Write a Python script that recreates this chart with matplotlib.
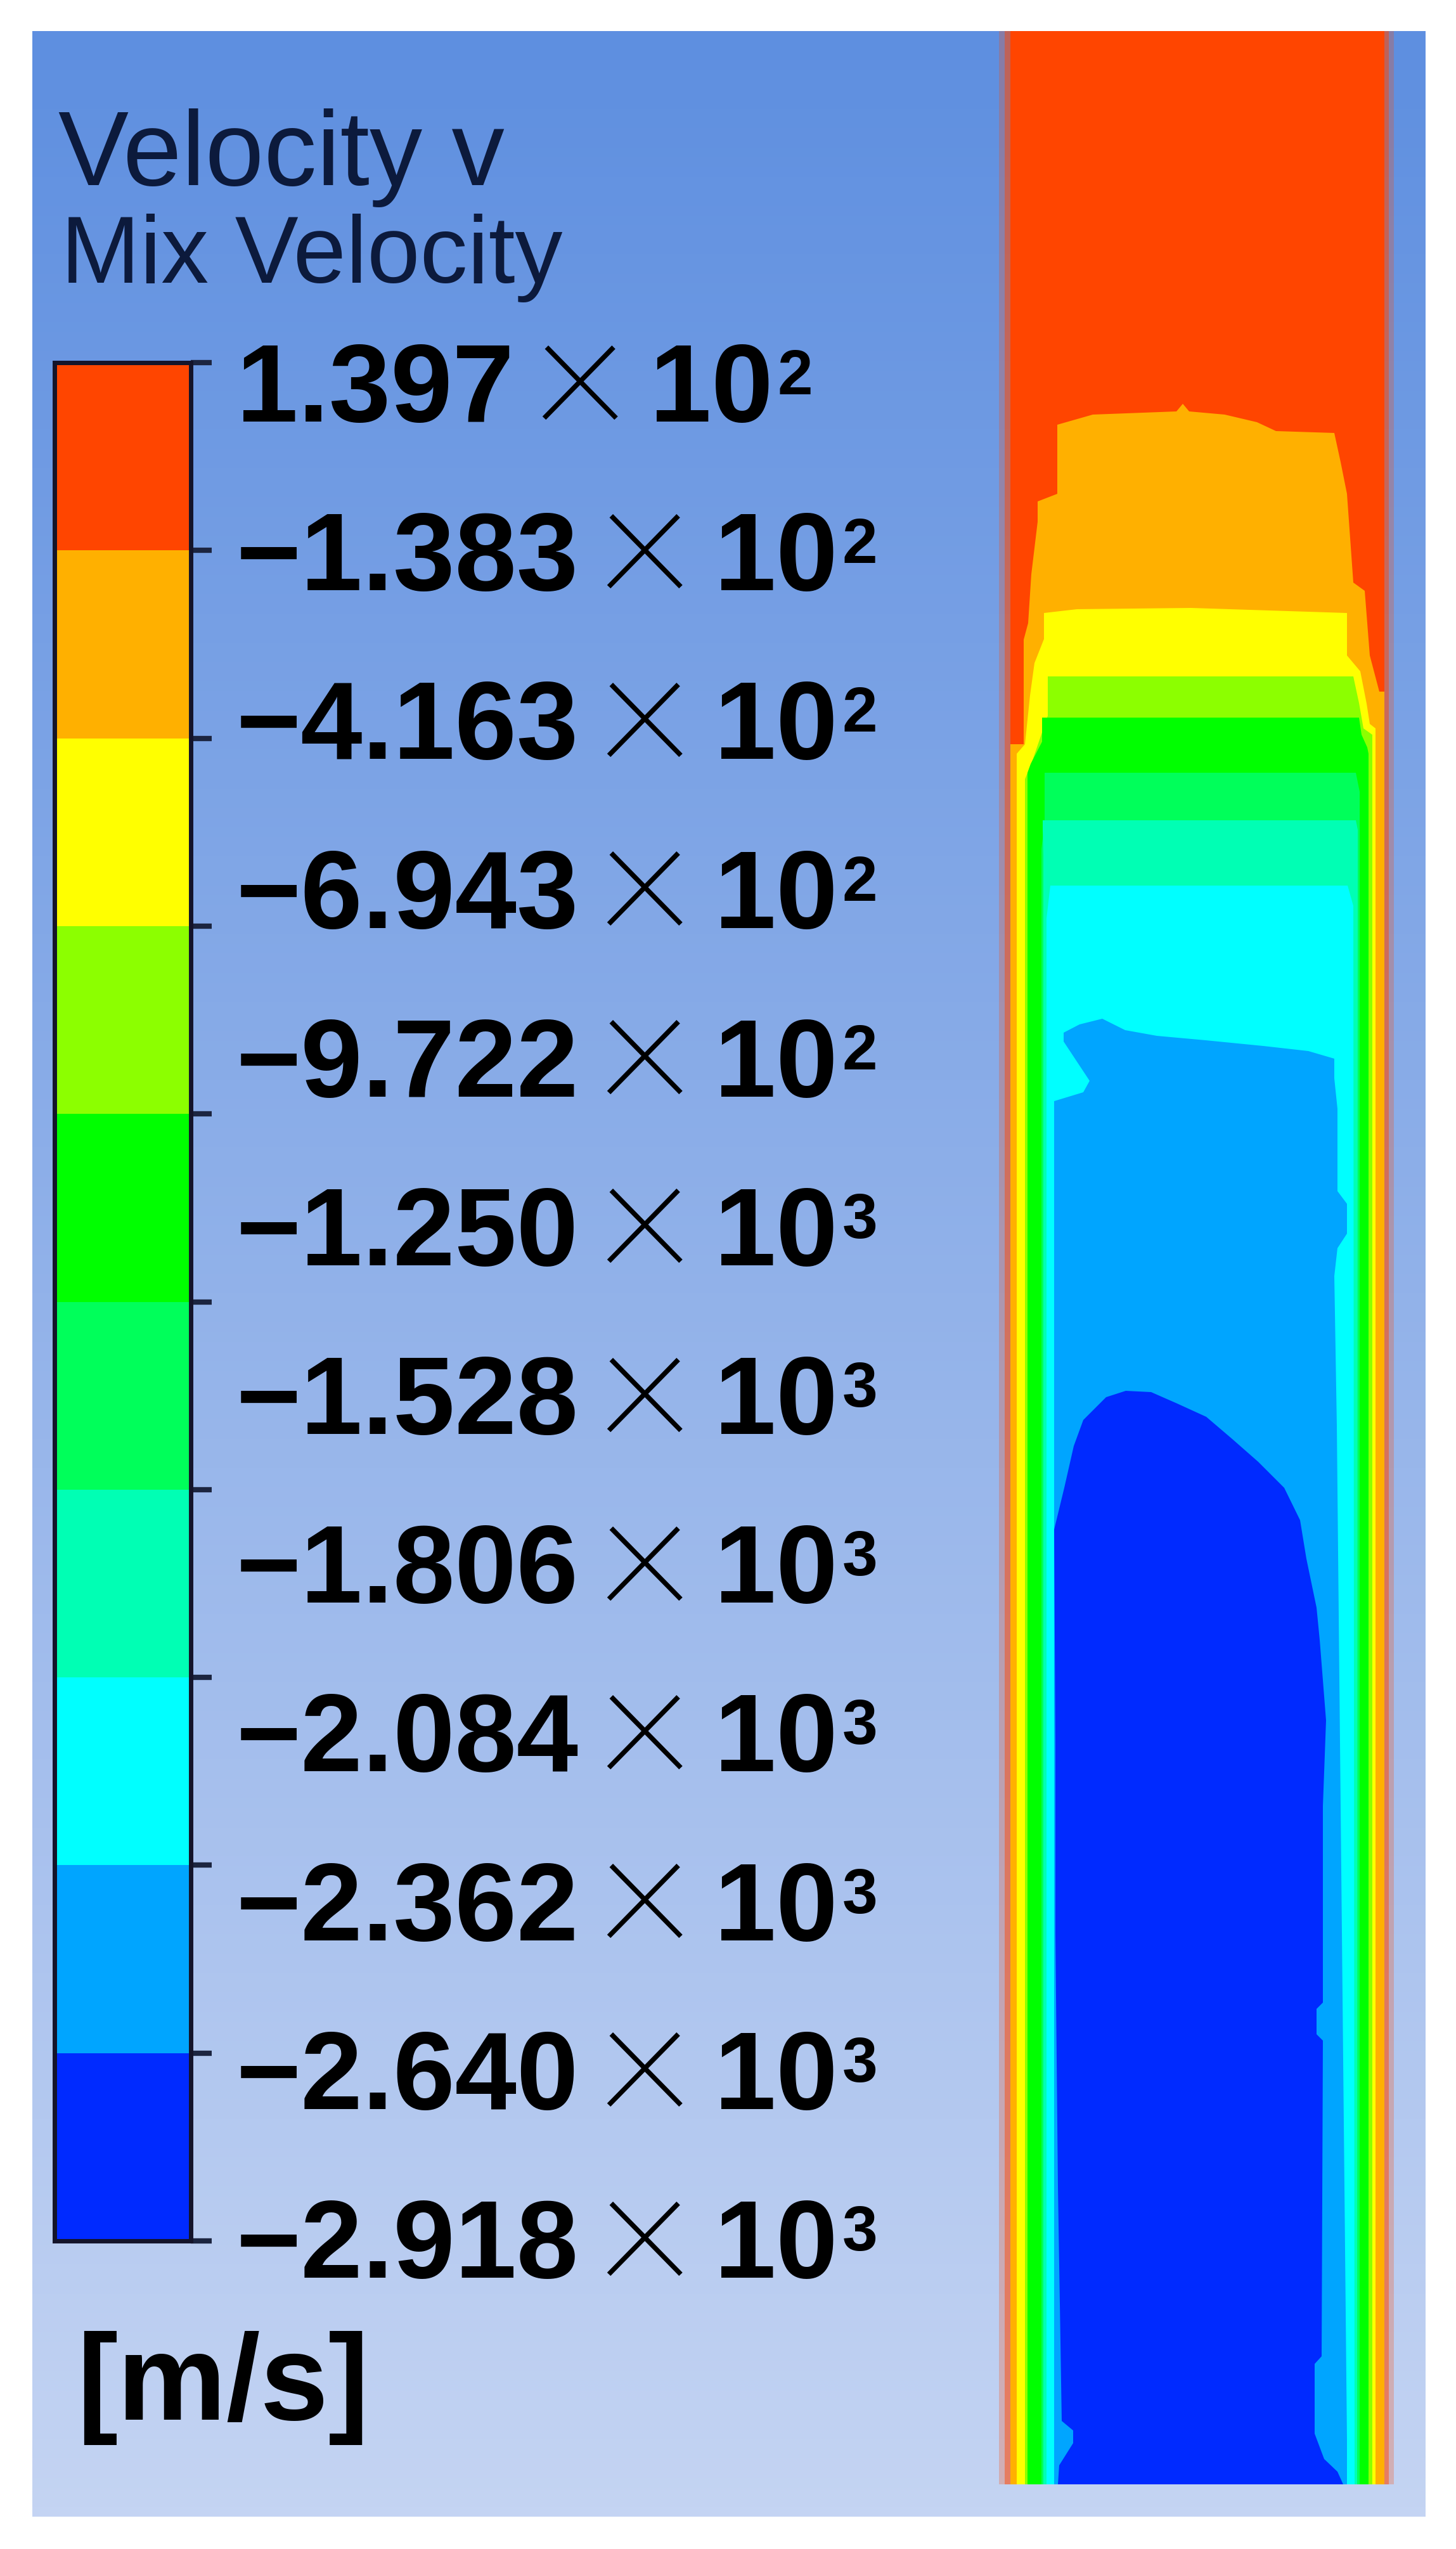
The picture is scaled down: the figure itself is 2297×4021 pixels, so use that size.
import numpy as np
import matplotlib
matplotlib.use('Agg')
import matplotlib.pyplot as plt
import matplotlib.colors as mcolors
from matplotlib.cm import ScalarMappable
from matplotlib.font_manager import FontProperties
from matplotlib.textpath import TextPath
from matplotlib.transforms import IdentityTransform

W, H, DPI = 2297, 4021, 100

# legend: 12 labels (mantissa, exponent), 10 colour bands from high to low
label_mant = ['1.397', '\u22121.383', '\u22124.163', '\u22126.943', '\u22129.722', '\u22121.250',
              '\u22121.528', '\u22121.806', '\u22122.084', '\u22122.362', '\u22122.640', '\u22122.918']
label_exp = ['2', '2', '2', '2', '2', '3', '3', '3', '3', '3', '3', '3']
v_max, v_min = 139.7, -2918.0
band_colors = ['#ff4500', '#ffb000', '#ffff00', '#8cff00', '#00ff00',
               '#00ff5a', '#00ffb4', '#00ffff', '#00a5ff', '#002aff']

# contour regions of the pipe (x across the pipe, y depth from the top), one per level below red
orange_x = [15, 15, 36, 36, 43, 48, 58, 58, 89, 89, 145, 277, 287, 297, 353, 404, 434, 526, 536, 546, 556, 574, 582, 597, 605, 605]
orange_y = [3870, 1125, 1125, 960, 934, 857, 774, 742, 730, 621, 605, 600, 588, 600, 605, 617, 631, 634, 680, 730, 870, 883, 985, 1042, 1042, 3870]
yellow_x = [25, 25, 38, 46, 53, 68, 68, 120, 300, 546, 546, 567, 577, 582, 591, 591]
yellow_y = [3870, 1140, 1125, 1048, 997, 959, 918, 912, 910, 918, 985, 1010, 1061, 1093, 1100, 3870]
chart_x = [38, 38, 50, 74, 74, 556, 565, 572, 586, 586]
chart_y = [3870, 1180, 1150, 1080, 1018, 1018, 1060, 1100, 1110, 3870]
green_x = [42, 42, 47, 65, 65, 565, 569, 578, 580, 580]
green_y = [3870, 1170, 1156, 1121, 1083, 1083, 1110, 1130, 1140, 3870]
spring_x = [64, 64, 69, 69, 560, 566, 566]
spring_y = [3870, 1290, 1250, 1170, 1170, 1200, 3870]
aqua_x = [67, 67, 66, 66, 560, 563, 562]
aqua_y = [3870, 1300, 1260, 1245, 1245, 1260, 3870]
cyan_x = [72, 72, 78, 547, 556, 558]
cyan_y = [3870, 1400, 1348, 1348, 1380, 3870]
azure_x = [84, 84, 130, 140, 99, 99, 124, 160, 196, 246, 323, 414, 485, 526, 526, 531, 531, 546, 546, 531, 526, 530, 546, 546]
azure_y = [3870, 1688, 1674, 1656, 1594, 1580, 1567, 1558, 1576, 1585, 1592, 1601, 1609, 1621, 1652, 1700, 1830, 1850, 1897, 1920, 1964, 2200, 3800, 3870]
blue_x = [90, 92, 114, 114, 96, 90, 86, 86, 84, 100, 115, 130, 166, 197, 237, 278, 324, 365, 406, 447, 472, 482, 498, 503, 513,
          508, 508, 498, 498, 508, 506, 495, 495, 510, 531, 540]
blue_y = [3870, 3840, 3805, 3785, 3770, 3400, 3000, 2700, 2364, 2298, 2232, 2191, 2155, 2145, 2147, 2165, 2186, 2221, 2257, 2298, 2349, 2410, 2487, 2538, 2665,
          2800, 3110, 3120, 3160, 3170, 3668, 3680, 3790, 3830, 3850, 3870]
regions = [(orange_x, orange_y), (yellow_x, yellow_y), (chart_x, chart_y), (green_x, green_y),
           (spring_x, spring_y), (aqua_x, aqua_y), (cyan_x, cyan_y), (azure_x, azure_y), (blue_x, blue_y)]

fig = plt.figure(figsize=(W / DPI, H / DPI), dpi=DPI)
fig.patch.set_facecolor('white')
renderer = fig.canvas.get_renderer()
ID = IdentityTransform()


def box(x0, y0, x1, y1):
    # pixel box (top-down) -> figure fraction rect
    return [x0 / W, 1 - y1 / H, (x1 - x0) / W, (y1 - y0) / H]


# background gradient
bg = fig.add_axes([0, 0, 1, 1])
bg.set_xlim(0, W)
bg.set_ylim(H, 0)
bg.axis('off')
ramp = np.linspace(0, 1, 256)[:, None, None]
c_top = np.array(mcolors.to_rgb('#5e8fe0'))
c_bot = np.array(mcolors.to_rgb('#c4d4f3'))
bg.imshow(c_top * (1 - ramp) + c_bot * ramp, extent=(51, 2249, 3970, 49), aspect='auto')

# pipe contour
dom = fig.add_axes(box(1576, 49, 2199, 3919))
dom.set_xlim(-3, 620)
dom.set_ylim(3870, 0)
dom.axis('off')
dom.patch.set_visible(False)
dom.fill([15, 15, 605, 605], [3870, 0, 0, 3870], color=band_colors[0], lw=0)
for (xs, ys), c in zip(regions, band_colors[1:]):
    dom.fill(xs, ys, color=c, lw=0)
dom.axvspan(6, 15, color=band_colors[0], alpha=0.6, lw=0)
dom.axvspan(-3, 6, color=band_colors[0], alpha=0.25, lw=0)
dom.axvspan(605, 612, color=band_colors[0], alpha=0.6, lw=0)
dom.axvspan(612, 620, color=band_colors[0], alpha=0.25, lw=0)

# colour bar
cax = fig.add_axes(box(86, 572, 301, 3535))
edges = np.linspace(v_min, v_max, len(band_colors) + 1)
cmap = mcolors.ListedColormap(band_colors[::-1])
norm = mcolors.BoundaryNorm(edges, cmap.N)
cb = fig.colorbar(ScalarMappable(norm=norm, cmap=cmap), cax=cax, ticks=edges)
cb.outline.set_linewidth(5)
cb.outline.set_edgecolor('#14142a')
cax.tick_params(axis='y', length=24, width=6, color='#1c2540', direction='out',
                right=True, left=False, labelright=False, labelleft=False)

# labels
bold = dict(family='Liberation Sans', fontweight='bold', color='black')
fs_main, fs_sup = 126, 72
fp_x = FontProperties(family='Roboto', weight=100)
ext = TextPath((0, 0), '\u00d7', size=100, prop=fp_x).get_extents()
fs_x = 100 * 119 / (ext.width * DPI / 72)
x_mid = (ext.y0 + ext.y1) / 2 * fs_x / 100 * DPI / 72

centers = np.linspace(603, 3531, len(label_mant))
for mant, ex, yc in zip(label_mant, label_exp, centers):
    yb = H - (yc + 62)
    t = fig.text(373, yb, mant, transform=ID, fontsize=fs_main, va='baseline', ha='left', **bold)
    x1 = t.get_window_extent(renderer).x1
    t = fig.text(x1 + 30, H - yc - x_mid, '\u00d7', transform=ID, fontsize=fs_x, va='baseline', ha='left',
                 fontproperties=fp_x, color='black')
    x1 = t.get_window_extent(renderer).x1
    t = fig.text(x1 + 36, yb, '10', transform=ID, fontsize=fs_main, va='baseline', ha='left', **bold)
    x1 = t.get_window_extent(renderer).x1
    fig.text(x1 + 7, yb + 43, ex, transform=ID, fontsize=fs_sup, va='baseline', ha='left', **bold)

# titles and unit
fig.text(92, H - 292, 'Velocity v', transform=ID, fontsize=120, family='Liberation Sans', color='#0c1a3c', va='baseline')
fig.text(96, H - 446, 'Mix Velocity', transform=ID, fontsize=108, family='Liberation Sans', color='#0c1a3c', va='baseline')
fig.text(121, H - 3817, '[m/s]', transform=ID, fontsize=139, va='baseline', **bold)

fig.savefig('out.png', dpi=DPI)
